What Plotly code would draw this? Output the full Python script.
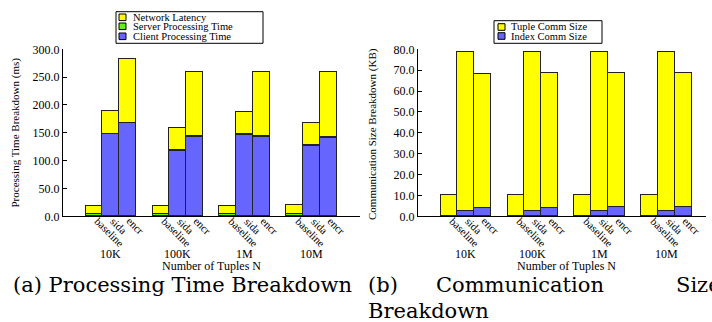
import plotly.graph_objects as go

# ---------------- data ----------------
groups = ["10K", "100K", "1M", "10M"]
methods = ["baseline", "sida", "encr"]

# (a) processing time breakdown (ms), order: per group baseline, sida, encr
client_time = [0, 147.0, 166.5, 0, 117.0, 142.5, 0, 145.5, 142.0, 0, 126.0, 141.0]
server_time = [3.5, 1.0, 1.0, 3.5, 1.0, 1.0, 3.5, 1.0, 1.0, 4.5, 1.0, 1.0]
network_latency = [15.0, 40.0, 114.5, 15.0, 40.5, 114.5, 15.0, 39.5, 115.5, 15.5, 40.0, 116.0]

# (b) communication size breakdown (KB)
index_comm = [0, 2.2, 3.8, 0, 2.2, 3.8, 0, 2.3, 4.2, 0, 2.2, 4.2]
tuple_comm = [9.9, 76.2, 64.4, 9.9, 76.2, 64.5, 9.9, 76.2, 64.4, 9.9, 76.2, 64.4]

yticks_a = [0, 50, 100, 150, 200, 250, 300]
yticks_b = [0, 10, 20, 30, 40, 50, 60, 70, 80]

# ---------------- layout helpers ----------------
W, H = 712, 322
def px(x):  # screen x -> paper
    return x / W
def py(y):  # screen y -> paper
    return 1 - y / H

YELLOW = "#ffff00"
GREEN = "#66ee22"
BLUE = "#6666ff"
EDGE = "#222222"
FONT = "Liberation Serif"

xpos = [4 * g + 2 + m for g in range(len(groups)) for m in range(len(methods))]
xlabels = [m for g in groups for m in methods]
group_x = [4 * g + 3 for g in range(len(groups))]

fig = go.Figure()

def add_bar(x, y, color, xa, ya, name):
    fig.add_trace(go.Bar(
        x=x, y=y, name=name, width=1.0, showlegend=False,
        marker=dict(color=color, line=dict(color=EDGE, width=1)),
        xaxis=xa, yaxis=ya, hoverinfo="skip"))

add_bar(xpos, client_time, BLUE, "x", "y", "Client Processing Time")
add_bar(xpos, server_time, GREEN, "x", "y", "Server Processing Time")
add_bar(xpos, network_latency, YELLOW, "x", "y", "Network Latency")
add_bar(xpos, index_comm, BLUE, "x2", "y2", "Index Comm Size")
add_bar(xpos, tuple_comm, YELLOW, "x2", "y2", "Tuple Comm Size")

AX_Y = 216.3
ydom = [py(AX_Y), py(49.3)]
slot = 16.73
xa_common = dict(
    tickmode="array", tickvals=xpos, showticklabels=False,
    ticks="", showline=True, linecolor="black", linewidth=1.2,
    showgrid=False, zeroline=False, automargin=False)
ya_common = dict(
    tickmode="array", ticks="inside", ticklen=4, tickcolor="black",
    showline=True, linecolor="black", linewidth=1.2, showgrid=False,
    zeroline=False, automargin=False,
    tickfont=dict(family=FONT, size=12, color="black"))

fig.update_layout(
    width=W, height=H, margin=dict(l=0, r=0, t=0, b=0, autoexpand=False),
    paper_bgcolor="white", plot_bgcolor="white", barmode="stack",
    bargap=0, showlegend=False,
    xaxis=dict(domain=[px(63), px(360)], range=[0.15, 0.15 + (360 - 63) / slot], **xa_common),
    yaxis=dict(domain=ydom, range=[0, 300], tickvals=yticks_a,
               ticktext=[f"{v:.1f}" for v in yticks_a], **ya_common),
    xaxis2=dict(domain=[px(418), px(706)], range=[0.15, 0.15 + (706 - 418) / slot],
                anchor="y2", **xa_common),
    yaxis2=dict(domain=ydom, range=[0, 80], tickvals=yticks_b, anchor="x2",
                ticktext=[f"{v:.1f}" for v in yticks_b], **ya_common),
)

ann = []
shapes = []
def text(x, y, s, size=12, xref="paper", xanchor="center", angle=0, family=FONT,
         xshift=0, yshift=0):
    ann.append(dict(x=x, y=y, xref=xref, yref="paper", text=s, showarrow=False,
                    xanchor=xanchor, yanchor="middle", textangle=angle,
                    xshift=xshift, yshift=yshift,
                    font=dict(family=family, size=size, color="black")))

# rotated category labels (start at tick, run down-right)
TICK_SIZE = 11
for xa in ["x", "x2"]:
    for xv, lab in zip(xpos, xlabels):
        half = len(lab) * 0.44 * TICK_SIZE * 0.3536
        text(xv, py(AX_Y), lab, size=TICK_SIZE, xref=xa, angle=45,
             xshift=half + 1.5, yshift=-(half + 2.5))
    for gx, g in zip(group_x, groups):
        text(gx, py(254), g, xref=xa)
    text(9.0, py(265.5), "Number of Tuples N", xref=xa)

text(px(15), py(132.5), "Processing Time Breakdown (ms)", size=11, angle=-90)
text(px(372), py(134), "Communication Size Breakdown (KB)", size=11, angle=-90)

# legends (drawn manually)
def legend(box, items, text_x, sw_x):
    x0, y0, x1, y1 = box
    shapes.append(dict(type="rect", xref="paper", yref="paper",
                       x0=px(x0), x1=px(x1), y0=py(y1), y1=py(y0),
                       line=dict(color="black", width=1), fillcolor="white"))
    for (label, color, yc) in items:
        shapes.append(dict(type="rect", xref="paper", yref="paper",
                           x0=px(sw_x), x1=px(sw_x + 7), y0=py(yc + 3.3), y1=py(yc - 3.3),
                           line=dict(color="black", width=1), fillcolor=color))
        text(px(text_x), py(yc), label, size=10.5, xanchor="left")

legend((116, 11.7, 263, 43.3),
       [("Network Latency", YELLOW, 17.3), ("Server Processing Time", GREEN, 26.3),
        ("Client Processing Time", BLUE, 36.3)], 131, 119)
legend((494, 20.7, 602, 43.3),
       [("Tuple Comm Size", YELLOW, 27.0), ("Index Comm Size", BLUE, 36.0)], 509, 498)

# captions
CAP = "DejaVu Serif"
text(px(11), py(285), "(a) Processing Time Breakdown", size=21, xanchor="left", family=CAP)
text(px(366), py(285), "(b)", size=21, xanchor="left", family=CAP)
text(px(434), py(285), "Communication", size=21, xanchor="left", family=CAP)
text(px(674), py(285), "Size", size=21, xanchor="left", family=CAP)
text(px(366), py(311), "Breakdown", size=21, xanchor="left", family=CAP)

fig.update_layout(annotations=ann, shapes=shapes)
fig.write_html("out.html", config={"displayModeBar": False},
               post_script="document.body.style.margin='0';document.body.style.overflow='hidden';")
